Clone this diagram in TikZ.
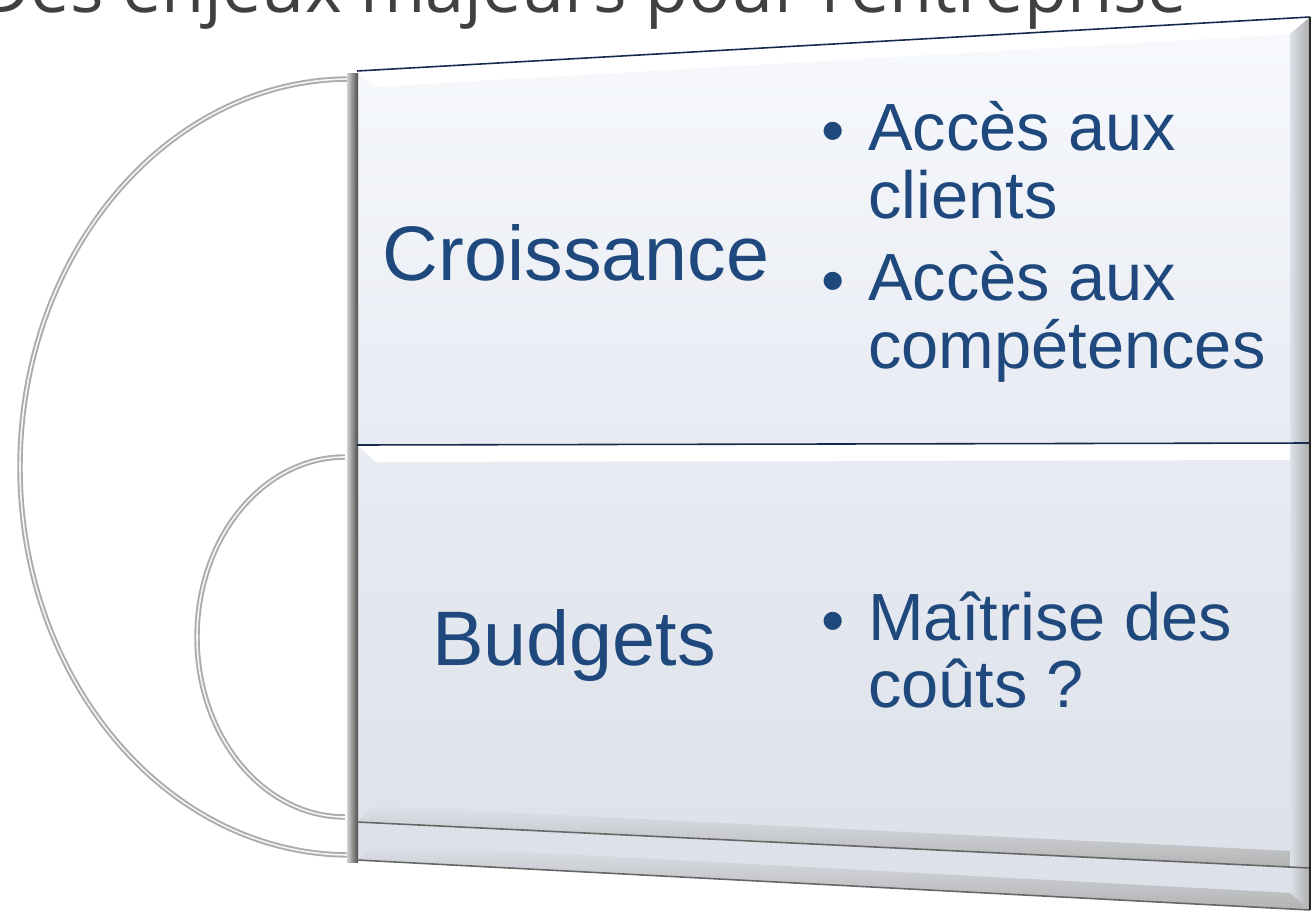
\documentclass[tikz,border=0pt]{standalone}
\usepackage{fontspec}
\setmainfont{Liberation Sans}
\newfontfamily\titlefont{Open Sans}
\definecolor{enjeuxblue}{RGB}{31,73,125}
\definecolor{bevelnavy}{RGB}{22,42,78}
\definecolor{paneltop}{RGB}{247,249,253}
\definecolor{panelmid}{RGB}{232,235,242}
\definecolor{panelbot}{RGB}{221,225,233}

\begin{document}
\begin{tikzpicture}[x=0.02cm,y=-0.02cm,
    bigtxt/.style={text=enjeuxblue,font=\fontsize{44}{44}\selectfont,inner sep=0pt,anchor=base},
    itemtxt/.style={text=enjeuxblue,font=\fontsize{38}{38}\selectfont,inner sep=0pt,anchor=base west},
    arcline/.style={draw=gray!65,line width=1.1pt,double=white!92!gray,double distance=0.9pt},
    edgeline/.style={draw=bevelnavy,line width=0.9pt}]
  \useasboundingbox (0,0) rectangle (1315,916);

  % title, cut by the page top
  \draw (1187,12) node[anchor=base east,inner sep=0pt,text=black!75,
      font=\titlefont\fontsize{40}{40}\selectfont] (t) {Des enjeux majeurs pour l'entreprise};

  % corners of the panels
  \coordinate (tl) at (357,71);  \coordinate (tr) at (1310,17);
  \coordinate (ml) at (357,445); \coordinate (mr) at (1310,443);
  \coordinate (bl1) at (357,822); \coordinate (br1) at (1310,868);
  \coordinate (bl) at (357,860); \coordinate (br) at (1310,910);

  % arcs
  \draw[arcline] (350,79) arc[start angle=270,end angle=90,x radius=330,y radius=388];
  \draw[arcline] (345,457) arc[start angle=270,end angle=90,x radius=148,y radius=180];

  % panels
  \shade[top color=paneltop,bottom color=panelmid] (tl) -- (tr) -- (mr) -- (ml) -- cycle;
  \shade[top color=panelmid,bottom color=panelbot] (ml) -- (mr) -- (br1) -- (bl1) -- cycle;
  \fill[panelbot] (bl1) -- (br1) -- (br) -- (bl) -- cycle;

  % bevels
  \fill[white] (tl) -- (tr) -- (1294,34) -- (373,87) -- cycle;
  \fill[white] (ml) -- (mr) -- (1292,460) -- (376,462) -- cycle;
  \shade[top color=panelbot,bottom color=gray!60] (376,806) -- (1292,851) -- (br1) -- (bl1) -- cycle;
  \shade[top color=panelbot,bottom color=gray!60] (376,844) -- (1292,893) -- (br) -- (bl) -- cycle;
  \shade[left color=panelbot,right color=gray!65] (1290,34) -- (tr) -- (br) -- (1290,893) -- cycle;
  \shade[left color=gray!35,right color=black!70] (347,73) rectangle (358,862);

  % edges
  \draw[edgeline] (tl) -- (tr);
  \draw[edgeline] (ml) -- (mr);
  \draw[edgeline,draw=black!60] (bl1) -- (br1);
  \draw[edgeline,draw=black!60] (bl) -- (br);
  \draw[line width=1.2pt,black!85] (tr) -- (br);

  % texts
  \draw
    (576,280) node[bigtxt] (0) {Croissance}
    (574,665) node[bigtxt] (1) {Budgets}
    (821,153) node[itemtxt] (2) {\textbullet}
    (868,150) node[itemtxt] (3) {Accès aux}
    (868,218) node[itemtxt] (4) {clients}
    (821,303) node[itemtxt] (5) {\textbullet}
    (868,300) node[itemtxt] (6) {Accès aux}
    (868,368) node[itemtxt] (7) {compétences}
    (821,643) node[itemtxt] (8) {\textbullet}
    (868,640) node[itemtxt] (9) {Maîtrise des}
    (868,707) node[itemtxt] (10) {coûts ?};
\end{tikzpicture}
\end{document}
